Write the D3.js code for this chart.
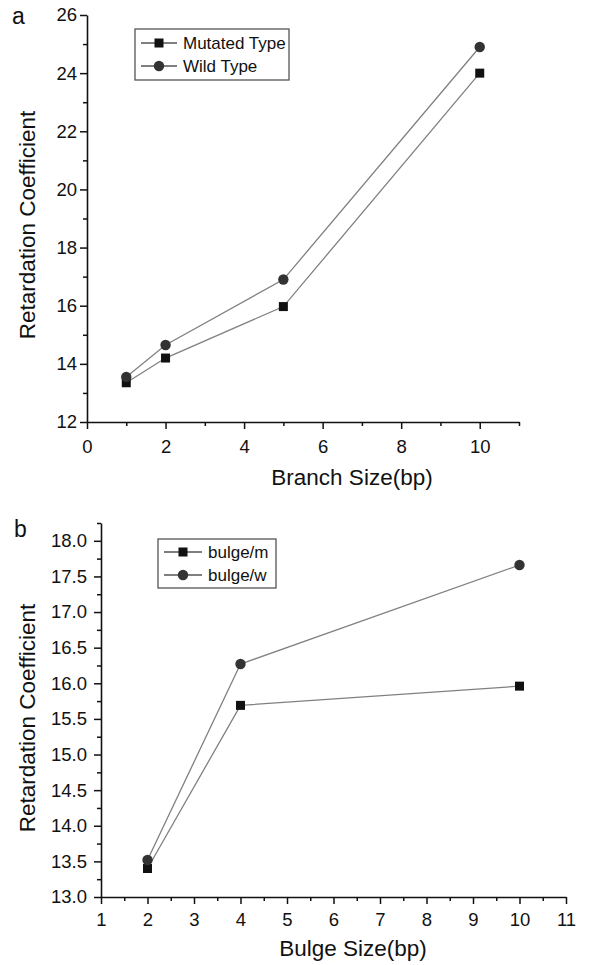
<!DOCTYPE html>
<html>
<head>
<meta charset="utf-8">
<script src="https://cdn.jsdelivr.net/npm/d3@7"></script>
<style>
  body { margin: 0; background: #fff; }
  text { font-family: "Liberation Sans", Arial, sans-serif; }
</style>
</head>
<body>
<svg id="chart" width="610" height="965"></svg>
<script>
// panel a
const branchSizes = [1, 2, 5, 10];
const branchMutated = [13.35, 14.2, 15.97, 24.0];
const branchWild = [13.55, 14.65, 16.9, 24.9];
const branchXTicks = [0, 2, 4, 6, 8, 10];
const branchYTicks = [12, 14, 16, 18, 20, 22, 24, 26];
const branchLegend = ['Mutated Type', 'Wild Type'];

// panel b
const bulgeSizes = [2, 4, 10];
const bulgeMutated = [13.4, 15.69, 15.96];
const bulgeWild = [13.52, 16.27, 17.66];
const bulgeXTicks = [1, 2, 3, 4, 5, 6, 7, 8, 9, 10, 11];
const bulgeYTicks = [13.0, 13.5, 14.0, 14.5, 15.0, 15.5, 16.0, 16.5, 17.0, 17.5, 18.0];
const bulgeLegend = ['bulge/m', 'bulge/w'];

const svg = d3.select('#chart');

function drawPanel(opt) {
    const x = d3.scaleLinear().domain(opt.xDomain).range(opt.xRange);
    const y = d3.scaleLinear().domain(opt.yDomain).range(opt.yRange);
    const g = svg.append('g');

    // minor ticks first
    g.append('g')
        .attr('transform', `translate(0,${opt.yRange[0]})`)
        .call(d3.axisBottom(x).tickValues(opt.xMinor).tickSize(4).tickFormat(''))
        .call(a => a.select('.domain').remove());
    g.append('g')
        .attr('transform', `translate(${opt.xRange[0]},0)`)
        .call(d3.axisLeft(y).tickValues(opt.yMinor).tickSize(4).tickFormat(''))
        .call(a => a.select('.domain').remove());

    const xa = g.append('g')
        .attr('transform', `translate(0,${opt.yRange[0]})`)
        .call(d3.axisBottom(x).tickValues(opt.xTicks).tickSize(7).tickSizeOuter(0).tickPadding(opt.xPad).tickFormat(d3.format('d')));
    const ya = g.append('g')
        .attr('transform', `translate(${opt.xRange[0]},0)`)
        .call(d3.axisLeft(y).tickValues(opt.yTicks).tickSize(7).tickSizeOuter(0).tickPadding(opt.yPad).tickFormat(opt.yFormat));
    [xa, ya].forEach(a => {
        a.selectAll('text').attr('font-size', 18.5).attr('fill', '#111');
        a.select('.domain').attr('stroke', '#111').attr('stroke-width', 1.6);
    });
    g.selectAll('.tick line').attr('stroke', '#111').attr('stroke-width', 1.5);

    const line = d3.line().x(d => x(d[0])).y(d => y(d[1]));
    const series = [
        {vals: opt.mutated, shape: 'square'},
        {vals: opt.wild, shape: 'circle'}
    ];
    series.forEach(s => {
        const pts = opt.xs.map((v, i) => [v, s.vals[i]]);
        g.append('path').datum(pts)
            .attr('d', line)
            .attr('fill', 'none')
            .attr('stroke', '#808080')
            .attr('stroke-width', 1.3);
    });
    series.forEach(s => {
        const pts = opt.xs.map((v, i) => [v, s.vals[i]]);
        if (s.shape === 'square') {
            g.selectAll(null).data(pts).join('rect')
                .attr('x', d => x(d[0]) - 4.5).attr('y', d => y(d[1]) - 4.5)
                .attr('width', 9).attr('height', 9)
                .attr('fill', '#111');
        } else {
            g.selectAll(null).data(pts).join('circle')
                .attr('cx', d => x(d[0])).attr('cy', d => y(d[1]))
                .attr('r', 5.2)
                .attr('fill', '#333');
        }
    });

    // legend
    const L = opt.legend;
    g.append('rect')
        .attr('x', L.x).attr('y', L.y).attr('width', L.w).attr('height', L.h)
        .attr('fill', 'none').attr('stroke', '#555').attr('stroke-width', 1.3);
    opt.legendLabels.forEach((lab, i) => {
        const ly = L.y + L.rows[i];
        g.append('line')
            .attr('x1', L.x + 6).attr('x2', L.x + 6 + L.len)
            .attr('y1', ly).attr('y2', ly)
            .attr('stroke', '#555').attr('stroke-width', 1.3);
        const cx = L.x + 6 + L.len / 2;
        if (i === 0) {
            g.append('rect').attr('x', cx - 4.5).attr('y', ly - 4.5)
                .attr('width', 9).attr('height', 9).attr('fill', '#111');
        } else {
            g.append('circle').attr('cx', cx).attr('cy', ly).attr('r', 5.2).attr('fill', '#333');
        }
        g.append('text')
            .attr('x', L.x + 12 + L.len).attr('y', ly + 6)
            .attr('font-size', 17).attr('fill', '#111')
            .text(lab);
    });

    // titles
    g.append('text')
        .attr('x', opt.xTitleX).attr('y', opt.xTitleY)
        .attr('text-anchor', 'middle').attr('font-size', 22.5).attr('fill', '#111')
        .text(opt.xTitle);
    g.append('text')
        .attr('transform', `translate(${opt.yTitleX},${opt.yTitleY}) rotate(-90)`)
        .attr('text-anchor', 'middle').attr('font-size', 22.5).attr('fill', '#111')
        .text('Retardation Coefficient');
    g.append('text')
        .attr('x', opt.tag[0]).attr('y', opt.tag[1])
        .attr('font-size', 23).attr('fill', '#111')
        .text(opt.tagText);
}

drawPanel({
    xs: branchSizes, mutated: branchMutated, wild: branchWild,
    xDomain: [0, 11], xRange: [87, 519],
    yDomain: [12, 26], yRange: [422, 15],
    xTicks: branchXTicks, xMinor: [1, 3, 5, 7, 9, 11],
    yTicks: branchYTicks, yMinor: [13, 15, 17, 19, 21, 23, 25],
    yFormat: d3.format('d'), xPad: 11, yPad: 3,
    legend: {x: 135, y: 29, w: 154, h: 51, len: 36, rows: [14, 37]},
    legendLabels: branchLegend,
    xTitle: 'Branch Size(bp)', xTitleX: 352, xTitleY: 485,
    yTitleX: 35, yTitleY: 225, tag: [12, 24], tagText: 'a'
});

drawPanel({
    xs: bulgeSizes, mutated: bulgeMutated, wild: bulgeWild,
    xDomain: [1, 11], xRange: [101, 566],
    yDomain: [13, 18.25], yRange: [897, 523],
    xTicks: bulgeXTicks, xMinor: [1.5, 2.5, 3.5, 4.5, 5.5, 6.5, 7.5, 8.5, 9.5, 10.5],
    yTicks: bulgeYTicks, yMinor: d3.range(13.25, 18.3, 0.5),
    yFormat: d3.format('.1f'), xPad: 9, yPad: 7,
    legend: {x: 158, y: 539, w: 118, h: 49, len: 38, rows: [13, 36]},
    legendLabels: bulgeLegend,
    xTitle: 'Bulge Size(bp)', xTitleX: 353, xTitleY: 956,
    yTitleX: 35, yTitleY: 718, tag: [14, 537], tagText: 'b'
});
</script>
</body>
</html>
